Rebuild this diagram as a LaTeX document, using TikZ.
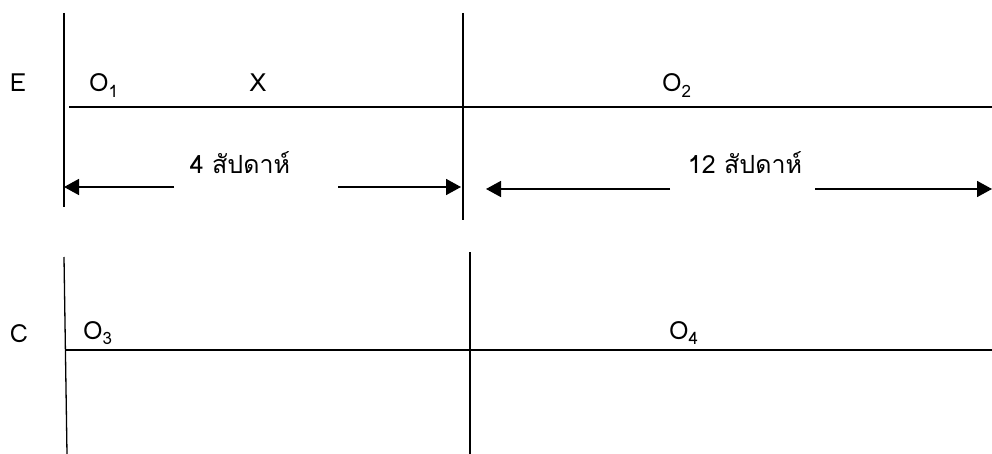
\documentclass[tikz,border=0pt]{standalone}
\usepackage{fontspec}
\newfontfamily\thaifont[Script=Thai]{Loma}
\setmainfont[Script=Thai]{Loma}
\usetikzlibrary{arrows.meta}
\newcommand{\Osub}[1]{O\raisebox{-0.22em}{\fontsize{17pt}{17pt}\selectfont #1}}
\begin{document}
\begin{tikzpicture}[x=1pt,y=-1pt,
  ln/.style={line width=1.3pt},
  arr/.style={line width=1.6pt,-{Triangle[length=15pt,width=16pt]}},
  lbl/.style={font=\fontsize{25pt}{28pt}\selectfont, inner sep=0pt, anchor=base}]
\useasboundingbox (0,0) rectangle (992,454);
% coordinates
\coordinate (tl1) at (64,13);  \coordinate (tl2) at (64,207);
\coordinate (tm1) at (463,13); \coordinate (tm2) at (463,220);
\coordinate (eh1) at (69,107); \coordinate (eh2) at (992,107);
\coordinate (bl1) at (64,257); \coordinate (bl2) at (67,454);
\coordinate (bm1) at (470,252); \coordinate (bm2) at (470,454);
\coordinate (ch1) at (66,350); \coordinate (ch2) at (992,350);
\coordinate (a1L) at (64,187); \coordinate (a1g1) at (174,187);
\coordinate (a1g2) at (338,187); \coordinate (a1R) at (461,187);
\coordinate (a2L) at (486,189); \coordinate (a2g1) at (670,189);
\coordinate (a2g2) at (815,189); \coordinate (a2R) at (992,189);
% lines
\draw[ln] (tl1) -- (tl2);
\draw[ln] (tm1) -- (tm2);
\draw[ln] (eh1) -- (eh2);
\draw[ln] (bl1) -- (bl2);
\draw[ln] (bm1) -- (bm2);
\draw[ln] (ch1) -- (ch2);
% arrows
\draw[arr] (a1g1) -- (a1L);
\draw[arr] (a1g2) -- (a1R);
\draw[arr] (a2g1) -- (a2L);
\draw[arr] (a2g2) -- (a2R);
% labels
\node[lbl] (E) at (18,92) {E};
\node[lbl, anchor=base west] (O1) at (89,92) {\Osub{1}};
\node[lbl] (X) at (258,92) {X};
\node[lbl, anchor=base west] (O2) at (662,92) {\Osub{2}};
\node[lbl] (w4) at (240,174) {4 สัปดาห์};
\node[lbl] (w12) at (745,174) {12 สัปดาห์};
\node[lbl] (C) at (19,342) {C};
\node[lbl, anchor=base west] (O3) at (83,339) {\Osub{3}};
\node[lbl, anchor=base west] (O4) at (669,339) {\Osub{4}};
\end{tikzpicture}
\end{document}
